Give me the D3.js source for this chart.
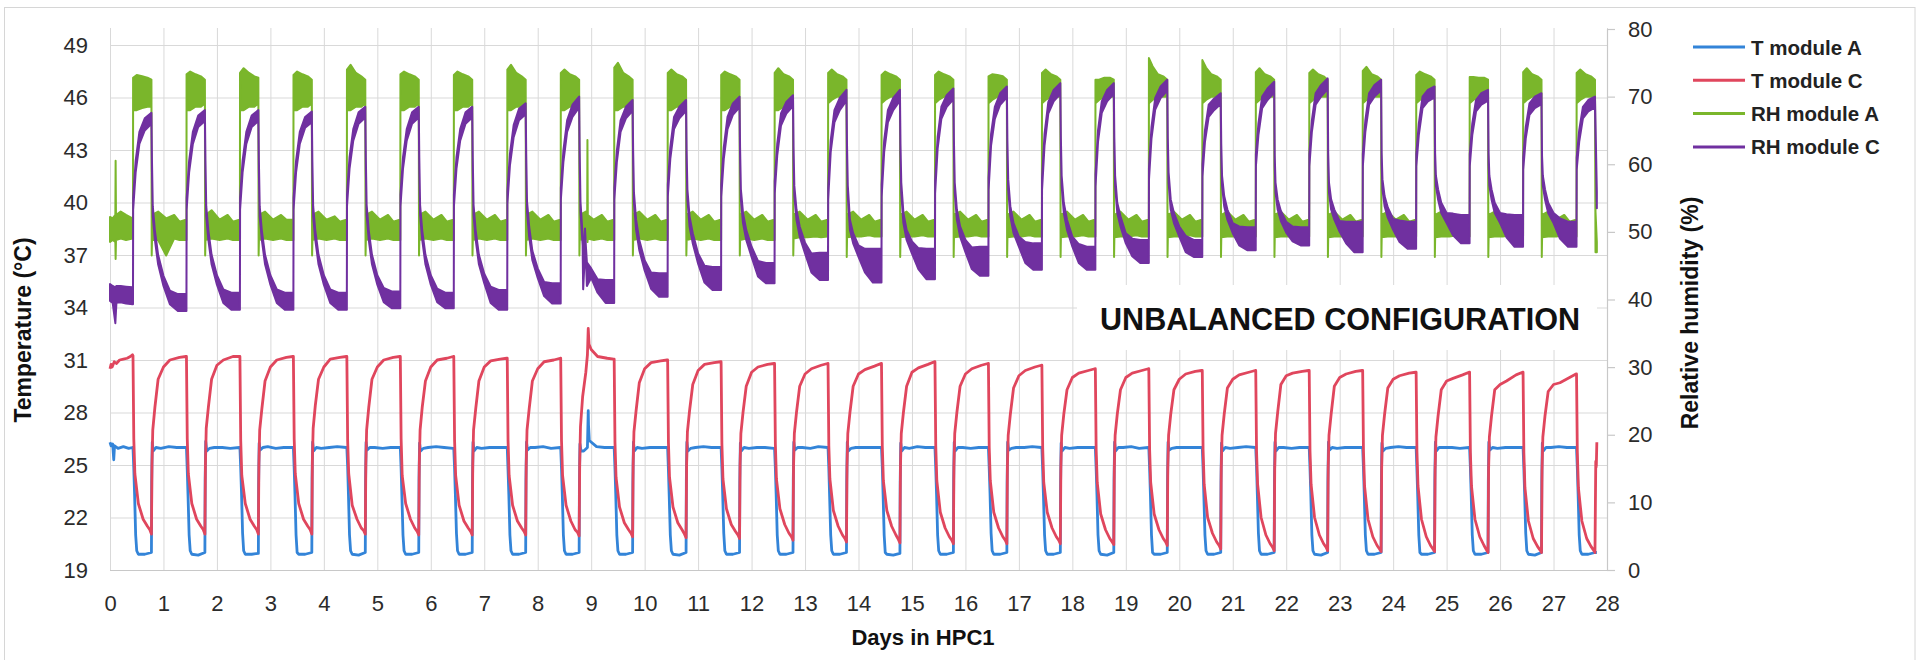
<!DOCTYPE html>
<html>
<head>
<meta charset="utf-8">
<script src="https://cdn.jsdelivr.net/npm/d3@7/dist/d3.min.js"></script>
<style>
  body { margin: 0; background: #fff; }
  svg { display: block; font-family: "Liberation Sans", Arial, sans-serif; }
</style>
</head>
<body>
<svg id="chart" width="1925" height="660"></svg>
<script>
// ---------- axes ----------
const dayTicks = [0,1,2,3,4,5,6,7,8,9,10,11,12,13,14,15,16,17,18,19,20,21,22,23,24,25,26,27,28];
const tempTicks = [19,22,25,28,31,34,37,40,43,46,49];
const rhTicks = [0,10,20,30,40,50,60,70,80];
const seriesNames = ["T module A", "T module C", "RH module A", "RH module C"];

// ---------- T module A (°C) ----------
// Each cycle row k holds readings at day k + tA_phase[i].
const tA_phase = [0.43,0.445,0.46,0.48,0.50,0.53,0.65,0.775,0.78,0.79,0.81,0.86,0.95,1.10,1.25,1.42];
const tA_lead = [[0,26.3],[0.02,26.1],[0.05,26.2],[0.07,25.3],[0.085,26.1],[0.15,25.95],[0.25,26.05],[0.35,25.95],[0.42,26.0]];
const tA_cycles = [
[26.0,24.8,23.3,21.0,20.1,19.9,19.9,20.0,24.0,26.3,25.8,26.0,25.95,26.05,26.0,26.0],
[26.0,24.7,23.2,21.0,20.1,19.9,19.85,20.0,24.1,26.35,25.8,25.95,26.0,26.0,25.95,26.0],
[26.0,24.8,23.4,21.1,20.1,19.9,19.9,19.95,24.0,26.25,25.85,26.0,26.05,25.95,26.0,26.0],
[26.0,24.8,23.3,21.0,20.0,19.9,19.9,20.0,24.2,26.3,25.8,26.0,25.95,26.0,26.05,26.0],
[26.0,24.9,23.3,21.0,20.1,19.9,19.85,20.0,24.0,26.3,25.85,26.0,26.0,25.95,26.0,26.0],
[26.0,24.8,23.2,21.0,20.1,19.9,19.9,20.0,24.1,26.25,25.8,25.95,26.0,26.05,26.0,25.95],
[25.95,24.8,23.3,21.1,20.1,19.9,19.9,20.0,24.0,26.3,25.8,26.0,25.95,26.0,26.0,26.0],
[26.0,24.7,23.3,21.0,20.1,19.9,19.9,20.0,24.1,26.3,25.85,26.0,26.0,26.05,25.95,26.0],
[26.0,24.8,23.3,21.0,20.1,19.9,19.9,20.0,24.0,26.2,25.8,25.8,27.3,26.05,26.0,26.0],
[26.0,24.8,23.3,21.0,20.1,19.9,19.9,20.0,24.0,26.3,25.8,26.0,25.95,26.0,26.0,26.0],
[26.0,24.7,23.2,21.0,20.1,19.9,19.85,20.0,24.1,26.3,25.8,25.95,26.0,26.05,26.0,26.0],
[26.0,24.8,23.3,21.1,20.1,19.9,19.9,20.0,24.0,26.25,25.8,26.0,25.95,26.0,26.0,25.95],
[25.95,24.8,23.3,21.0,20.1,19.9,19.9,20.0,24.1,26.3,25.85,26.0,26.0,25.95,26.05,26.0],
[26.0,24.8,23.2,21.0,20.1,19.9,19.9,20.0,24.0,26.3,25.8,25.95,26.0,26.0,26.0,26.0],
[26.0,24.9,23.3,21.0,20.0,19.9,19.85,19.95,24.0,26.25,25.8,26.0,25.95,26.05,26.0,26.0],
[26.0,24.8,23.3,21.0,20.1,19.9,19.9,20.0,24.1,26.3,25.8,26.0,26.0,25.95,26.0,26.0],
[26.0,24.8,23.4,21.1,20.1,19.9,19.9,20.0,24.0,26.3,25.85,25.95,26.0,26.0,26.05,26.0],
[26.0,24.7,23.2,21.0,20.1,19.9,19.9,20.0,24.0,26.25,25.8,26.0,25.95,26.0,26.0,26.0],
[26.0,24.8,23.3,21.0,20.1,19.9,19.85,20.0,24.1,26.3,25.8,26.0,26.0,26.05,25.95,26.0],
[26.0,24.8,23.3,21.0,20.0,19.9,19.9,20.0,24.0,26.3,25.85,25.95,26.0,26.0,26.0,26.0],
[26.0,24.8,23.2,21.0,20.1,19.9,19.9,20.0,24.0,26.25,25.8,26.0,25.95,26.0,26.05,26.0],
[26.0,24.9,23.3,21.1,20.1,19.9,19.9,20.0,24.1,26.3,25.8,26.0,26.0,25.95,26.0,26.0],
[26.0,24.8,23.3,21.0,20.1,19.9,19.85,20.0,24.0,26.3,25.85,26.0,25.95,26.0,26.0,26.0],
[26.0,24.8,23.3,21.0,20.1,19.9,19.9,20.0,24.0,26.25,25.8,25.95,26.0,26.05,26.0,26.0],
[26.0,24.7,23.2,21.0,20.0,19.9,19.9,20.0,24.1,26.3,25.8,26.0,26.0,26.0,25.95,26.0],
[26.0,24.8,23.3,21.0,20.1,19.9,19.9,20.0,24.0,26.3,25.85,26.0,25.95,26.0,26.0,26.0],
[26.0,24.8,23.3,21.1,20.1,19.9,19.85,20.0,24.0,26.25,25.8,26.0,26.0,26.05,26.0,26.0],
[26.0,24.8,23.3,21.0,20.1,19.9,19.9,20.0]
];
const tA_extra = [[8.93,26.0],[8.945,28.1],[8.965,26.4]];
const tA_tail = [[27.81,20.0]];

// ---------- T module C (°C) ----------
const tC_phase = [0.43,0.445,0.465,0.53,0.62,0.70,0.745,0.775,0.785,0.80,0.84,0.90,1.00,1.12,1.30,1.42];
const tC_lead = [[0,30.5],[0.02,30.75],[0.04,30.6],[0.08,30.9],[0.12,30.8],[0.18,31.0],[0.25,31.05],[0.32,31.1],[0.38,31.2],[0.42,31.3]];
const tC_cycles = [
[31.25,26.5,24.5,22.8,21.9,21.5,21.3,21.05,25.0,27.0,28.3,29.9,30.6,31.0,31.15,31.2],
[31.2,26.5,24.5,22.8,21.9,21.5,21.3,21.05,25.0,27.1,28.3,29.9,30.7,31.0,31.2,31.2],
[31.2,26.4,24.4,22.8,21.9,21.5,21.3,21.05,25.0,27.0,28.2,29.8,30.6,31.0,31.15,31.2],
[31.2,26.5,24.5,22.8,21.9,21.5,21.3,21.05,25.2,27.1,28.4,29.9,30.6,31.05,31.15,31.2],
[31.2,26.4,24.5,22.7,21.9,21.4,21.25,21.05,25.0,27.0,28.3,29.9,30.6,31.0,31.15,31.2],
[31.2,26.5,24.4,22.8,21.9,21.4,21.2,21.0,25.0,27.0,28.3,29.8,30.6,31.0,31.1,31.2],
[31.2,26.4,24.4,22.7,21.8,21.4,21.2,21.0,25.0,27.0,28.2,29.8,30.6,30.95,31.05,31.1],
[31.1,26.4,24.4,22.7,21.8,21.4,21.2,21.0,25.0,27.0,28.2,29.8,30.5,30.9,31.0,31.1],
[31.1,26.4,24.4,22.7,21.8,21.3,21.15,20.95,25.0,27.2,28.9,30.3,31.6,31.2,31.1,31.05],
[31.05,26.3,24.3,22.6,21.7,21.3,21.1,20.9,25.0,26.9,28.1,29.7,30.5,30.85,30.95,31.0],
[31.0,26.3,24.3,22.6,21.7,21.3,21.05,20.85,25.0,26.9,28.1,29.6,30.4,30.75,30.85,30.9],
[30.9,26.2,24.2,22.5,21.6,21.2,21.0,20.8,25.0,26.8,28.0,29.5,30.3,30.6,30.75,30.8],
[30.8,26.2,24.2,22.5,21.6,21.1,20.9,20.7,24.9,26.8,28.0,29.5,30.2,30.5,30.7,30.8],
[30.8,26.1,24.2,22.4,21.5,21.0,20.8,20.6,24.9,26.8,28.0,29.5,30.2,30.45,30.65,30.8],
[30.8,26.1,24.1,22.4,21.5,21.0,20.75,20.55,24.9,26.8,28.0,29.5,30.3,30.55,30.75,30.9],
[30.9,26.1,24.1,22.3,21.4,20.9,20.7,20.5,24.9,26.8,28.0,29.5,30.2,30.5,30.7,30.8],
[30.8,26.0,24.1,22.3,21.4,20.9,20.7,20.5,24.9,26.7,27.9,29.4,30.1,30.4,30.6,30.7],
[30.7,26.0,24.0,22.3,21.4,20.9,20.7,20.5,24.8,26.7,27.9,29.3,30.0,30.25,30.4,30.5],
[30.5,25.9,24.0,22.2,21.3,20.8,20.6,20.45,24.8,26.7,27.9,29.3,30.0,30.25,30.4,30.5],
[30.5,25.9,24.0,22.2,21.3,20.8,20.6,20.4,24.8,26.7,27.9,29.3,29.9,30.2,30.35,30.4],
[30.4,25.9,23.9,22.0,21.1,20.6,20.4,20.2,24.8,26.7,27.9,29.4,29.9,30.15,30.3,30.4],
[30.4,25.8,23.9,22.0,21.0,20.5,20.3,20.1,24.8,26.8,28.0,29.6,30.1,30.25,30.35,30.4],
[30.4,25.8,23.9,22.0,21.0,20.5,20.3,20.1,24.8,26.7,27.9,29.5,30.0,30.2,30.35,30.4],
[30.4,25.8,23.8,21.9,20.9,20.4,20.2,20.05,24.8,26.7,27.9,29.4,29.9,30.1,30.25,30.3],
[30.3,25.8,23.8,21.9,20.9,20.4,20.2,20.05,24.7,26.6,27.8,29.3,29.8,29.95,30.15,30.3],
[30.3,25.7,23.8,21.9,20.9,20.4,20.15,20.0,24.7,26.6,27.8,29.3,29.6,29.8,30.15,30.3],
[30.3,25.7,23.7,21.8,20.8,20.35,20.15,20.0,24.7,26.6,27.8,29.2,29.6,29.7,30.0,30.2],
[30.2,25.7,23.7,21.8,20.8,20.35,20.15,20.0]
];
const tC_extra = [[8.93,31.3],[8.945,32.8],[8.96,31.9]];
const tC_tail = [[27.79,25.2],[27.80,24.9],[27.81,26.3]];

// ---------- RH module A (%) : [low edge, high edge] pairs ----------
const rhA_phase = [0.43,0.432,0.5,0.6,0.7,0.775,0.78,0.786,0.9,1.05,1.2,1.3,1.42];
const rhA_lead = [[0,48.5,52.2],[0.05,48.8,52],[0.1,48.5,52.5],[0.105,46,60.5],[0.112,48.8,52.5],[0.2,49,53],[0.3,48.8,52.5],[0.42,49,52]];
const rhA_cycles = [
[49,52, 68,72.8, 68,73.2, 68.3,73, 68.5,72.8, 68.5,72.5, 46.5,52, 48.8,52.5, 48.8,53, 46.5,52, 49,52.5, 48.8,51.5, 48.8,51.8],
[48.8,51.8, 68,73.3, 68,73.7, 68.5,73.3, 68.5,73, 69,72.5, 46.5,52, 48.8,52.5, 49,53.2, 48.8,51.8, 49,52.5, 48.8,51.5, 48.8,51.8],
[48.8,51.8, 68,73.5, 68,74.2, 68.5,73.5, 68.5,73, 69,72.8, 46.5,52, 48.8,52.5, 49,53, 48.8,51.8, 49,52.5, 48.8,51.8, 48.8,51.8],
[48.8,51.8, 68,73.2, 68,73.7, 68.5,73.3, 68.5,73, 69,72.5, 46.5,52, 48.8,52.5, 49,53, 48.8,51.8, 49,52.3, 48.8,51.5, 48.8,51.8],
[48.8,51.8, 68,74, 68,74.7, 68.5,73.5, 68.5,73, 69,72.5, 46.5,52, 48.8,52.5, 49,53, 48.8,51.8, 49,52.5, 48.8,51.5, 48.8,51.8],
[48.8,51.8, 68,73.3, 68,73.7, 68.5,73.3, 68.5,73, 69,72.5, 46.5,52, 48.8,52.5, 49,53, 48.8,51.8, 49,52.5, 48.8,51.5, 48.8,51.8],
[48.8,51.8, 68,73.2, 68,73.7, 68.5,73.3, 68.5,73, 69,72.5, 46.5,52, 48.8,52.5, 49,53, 48.8,51.8, 49,52.5, 48.8,51.5, 48.8,51.8],
[48.8,51.8, 68,74, 68,74.7, 68.5,73.5, 68.5,73, 69,72.5, 46.5,52, 48.8,52.5, 49,53, 48.8,51.8, 49,52.5, 48.8,51.5, 48.8,51.8],
[48.8,51.8, 68,73.5, 68,74, 68.5,73.3, 68.5,73, 69,72.5, 46.5,52, 48.8,52.5, 49,53, 48.8,51.8, 49,52.5, 48.8,51.5, 48.8,51.8],
[48.8,51.8, 68,74.3, 68,75, 68.5,73.5, 68.5,73, 69,72.5, 46.5,52, 48.8,52.5, 49,53, 48.8,51.8, 49,52.5, 48.8,51.5, 48.8,51.8],
[48.8,51.8, 68,73.5, 68,74, 68.5,73.3, 68.5,73, 69,72.5, 46.5,52, 48.8,52.5, 49,53, 48.8,51.8, 49,52.5, 48.8,51.5, 48.8,51.8],
[48.8,51.8, 68,73.2, 68,73.7, 68.5,73.3, 68.5,73, 69,72.5, 46.5,52, 48.8,52.5, 49,53, 48.8,51.8, 49,52.5, 48.8,51.5, 48.8,51.8],
[48.8,51.8, 68,73.5, 68,74.2, 68.5,73.3, 68.5,73, 69,72.5, 46.5,52, 49,52.5, 49.2,53, 49.2,51.8, 49.3,52.5, 49.2,51.5, 49.3,51.8],
[49.3,51.8, 69,73.5, 69.5,74, 70,73.3, 70,73, 70,72.5, 46.3,52, 49.2,52.5, 49.3,53, 49.3,51.8, 49.5,52.5, 49.3,51.5, 49.3,51.8],
[49.3,51.8, 69,73.2, 69.5,73.7, 70,73.3, 70,73, 70,72.5, 46.3,52, 49.2,52.5, 49.3,53, 49.3,51.8, 49.5,52.5, 49.3,51.5, 49.3,51.8],
[49.3,51.8, 69,73.2, 69.5,73.7, 70,73.3, 70,73, 70,72.5, 46.3,52, 49.2,52.5, 49.3,53, 49.3,51.8, 49.5,52.5, 49.3,51.5, 49.3,51.8],
[49.3,51.8, 69,73, 69.5,73.3, 70,73.2, 70,73, 70,72.5, 46.3,52, 49.2,52.5, 49.3,53, 49.3,51.8, 49.5,52.5, 49.3,51.5, 49.3,51.8],
[49.3,51.8, 69,73.5, 69.5,74, 70,73.3, 70,73, 70,72.5, 46.3,52, 49.2,52.5, 49.3,53, 49.3,51.8, 49.5,52.5, 49.3,51.5, 49.3,51.8],
[49.3,51.8, 69,72.5, 69.5,72.5, 70,72.8, 70,72.8, 70,72.5, 46.3,52, 49.2,52.5, 49.3,53, 49.3,51.8, 49.5,52.5, 49.3,51.5, 49.3,51.8],
[49.3,51.8, 69,75.7, 69.5,74.5, 70,73.3, 70,73, 70,72.5, 46.3,52, 49.2,52.5, 49.3,53, 49.3,51.8, 49.5,52.5, 49.3,51.5, 49.3,51.8],
[49.3,51.8, 69,75.4, 69.5,74.3, 70,73.3, 70,73, 70,72.5, 46.3,52, 49.2,52.5, 49.3,53, 49.3,51.8, 49.5,52.5, 49.3,51.5, 49.3,51.8],
[49.3,51.8, 69,73.6, 69.5,74.2, 70,73.3, 70,73, 70,72.5, 46.3,52, 49.2,52.5, 49.3,53, 49.3,51.8, 49.5,52.5, 49.3,51.5, 49.3,51.8],
[49.3,51.8, 69,73.5, 69.5,74, 70,73.3, 70,73, 70,72.5, 46.3,52, 49.2,52.5, 49.3,53, 49.3,51.8, 49.5,52.5, 49.3,51.5, 49.3,51.8],
[49.3,51.8, 69,73.8, 69.5,74.4, 70,73.3, 70,73, 70,72.5, 46.3,52, 49.2,52.5, 49.3,53, 49.3,51.8, 49.5,52.5, 49.3,51.5, 49.3,51.8],
[49.3,51.8, 69,73.2, 69.5,73.7, 70,73.3, 70,73, 70,72.5, 46.3,52, 49.2,52.5, 49.3,53, 49.3,51.8, 49.5,52.5, 49.3,51.5, 49.3,51.8],
[49.3,51.8, 69,72.9, 69.5,72.9, 70,72.8, 70,72.8, 70,72.5, 46.3,52, 49.2,52.5, 49.3,53, 49.3,51.8, 49.5,52.5, 49.3,51.5, 49.3,51.8],
[49.3,51.8, 69,73.6, 69.5,74.2, 70,73.3, 70,73, 70,72.5, 46.3,52, 49.2,52.5, 49.3,53, 49.3,51.8, 49.5,52.5, 49.3,51.5, 49.3,51.8],
[49.3,51.8, 69,73.5, 69.5,74, 70,73.3, 70,73, 70,72.5]
];
const rhA_extra = [[8.925,49,52],[8.93,48.5,63.6],[8.937,49,52.5]];
const rhA_tail = [[27.785,47,53],[27.81,47,48.5]];

// ---------- RH module C (%) : [low edge, high edge] pairs ----------
const rhC_phase = [0.43,0.433,0.48,0.55,0.65,0.775,0.785,0.80,0.84,0.90,1.00,1.12,1.27,1.42];
const rhC_lead = [[0,39.8,42.3],[0.05,39.5,42],[0.1,36.5,41.8],[0.12,39.5,42],[0.2,39.6,42],[0.3,39.4,41.9],[0.42,39.3,41.8]];
const rhC_cycles = [
[39.3,41.8, 53.3,55, 58.8,60.5, 63,64.8, 65,66.8, 66,67.6, 58.8,60.5, 52.3,53.8, 48.8,50.2, 45.2,46.6, 42,43.5, 39.3,41.3, 38.3,40.8, 38.3,40.8],
[38.3,40.8, 53.3,55, 58.8,60.5, 63,64.8, 65.5,67.2, 66.4,68, 58.8,60.5, 52.3,53.8, 48.8,50.2, 45.2,46.6, 42.2,43.6, 39.5,41.5, 38.5,41, 38.5,41],
[38.5,41, 53.3,55, 58.8,60.5, 63,64.8, 65.5,67.2, 66.4,68, 58.8,60.5, 52.3,53.8, 48.8,50.2, 45.2,46.6, 42.2,43.6, 39.5,41.5, 38.5,41, 38.5,41],
[38.5,41, 53.3,55, 58.8,60.5, 63,64.8, 65.4,67, 66.2,67.8, 58.8,60.5, 52.3,53.8, 48.8,50.2, 45.2,46.6, 42.2,43.6, 39.5,41.5, 38.5,41, 38.5,41],
[38.5,41, 53.8,55.5, 59.3,61, 63.5,65.2, 66,67.7, 66.9,68.5, 59.3,61, 52.5,54, 48.8,50.2, 45.2,46.6, 42.2,43.6, 39.6,41.7, 38.7,41.2, 38.7,41.2],
[38.7,41.2, 53.8,55.5, 59.3,61, 63.5,65.2, 66,67.7, 66.9,68.5, 59.3,61, 52.5,54, 48.8,50.2, 45.2,46.6, 42.2,43.6, 39.6,41.6, 38.7,41, 38.7,41],
[38.7,41, 53.8,55.5, 59.3,61, 63.5,65.2, 66,67.7, 66.9,68.5, 59.3,61, 52.5,54, 48.8,50.2, 45.2,46.6, 42.4,43.8, 39.5,41.9, 38.5,41.4, 38.5,41.4],
[38.5,41.4, 54.2,56, 59.8,61.5, 64,65.8, 66.5,68.2, 67.4,69, 59.8,61.5, 53,54.5, 49.3,50.8, 45.8,47.2, 43.2,44.6, 40.5,42.6, 39.4,42.4, 39.4,42.4],
[39.4,42.4, 54.8,56.5, 60.3,62, 64.8,66.5, 67,68.8, 68.4,70, 60,61.8, 53,54.5, 48,49.5, 46.3,48, 43.2,44.6, 41,43, 39.5,42.9, 39.5,42.9],
[39.5,42.9, 54.8,56.5, 60.3,62, 64.8,66.5, 66.8,68.5, 67.9,69.5, 60.3,62, 54.3,55.8, 50.3,51.8, 47.3,48.8, 44.3,45.8, 41.6,44, 40.4,43.9, 40.4,43.9],
[40.4,43.9, 55.2,57, 60.8,62.5, 65.2,67, 66.8,68.5, 67.9,69.5, 60.3,62, 54.8,56.3, 50.8,52.3, 48.3,49.8, 45.3,46.8, 42.5,45, 41.4,44.8, 41.4,44.8],
[41.4,44.8, 55.2,57, 60.8,62.5, 65.2,67, 67.3,69, 68.4,70, 60.8,62.5, 54.8,56.3, 51.3,52.8, 48.8,50.3, 46.3,47.8, 43.4,45.7, 42.4,45.4, 42.4,45.4],
[42.4,45.4, 55.7,57.5, 61.3,63, 65.7,67.5, 67.5,69.2, 68.6,70.2, 60.8,62.5, 55.3,56.8, 51.8,53.3, 49.3,50.8, 46.8,48.4, 44,46.8, 42.9,46.9, 42.9,46.9],
[42.9,46.9, 54.8,56.5, 61.8,63.5, 66.2,68, 68,69.8, 69.4,71, 61.3,63, 55.3,56.8, 50.3,51.8, 48.3,49.8, 46.3,48, 44,47.5, 42.5,47.5, 42.5,47.5],
[42.5,47.5, 55.2,57, 61.8,63.5, 66.2,68, 68,69.8, 69.4,71, 61.3,63, 55.8,57.3, 51.3,52.8, 48.8,50.3, 46.8,48.6, 44.5,47.6, 43,47.5, 43,47.5],
[43,47.5, 55.7,57.5, 62.3,64, 66.7,68.5, 68.5,70.2, 69.6,71.2, 61.8,63.5, 55.8,57.3, 51.8,53.3, 49.3,50.8, 47,48.8, 44.5,47.7, 43.5,47.8, 43.5,47.8],
[43.5,47.8, 56.2,58, 62.8,64.5, 66.7,68.5, 68.8,70.5, 69.9,71.5, 61.8,63.5, 56.3,57.8, 52.3,53.8, 49.8,51.3, 47.8,49.3, 45.4,48.5, 44.4,48.3, 44.4,48.3],
[44.4,48.3, 56.2,58, 62.8,64.5, 67.5,69.2, 69.3,71, 70.4,72, 62.3,64, 56.8,58.3, 52.8,54.3, 50.3,51.8, 47.8,49.3, 45.4,48.2, 44.4,47.8, 44.4,47.8],
[44.4,47.8, 56.7,58.5, 63.3,65, 67.6,69.3, 69.3,71, 70.4,72, 62.3,64, 56.8,58.3, 52.8,54.3, 50.8,52.3, 48.3,49.8, 46.4,49, 45.4,48.8, 45.4,48.8],
[45.4,48.8, 57.7,59.5, 63.8,65.5, 68.1,69.8, 69.8,71.5, 70.9,72.5, 62.3,64, 57.3,58.8, 53.3,54.8, 51.3,52.8, 49.3,50.8, 47,49.4, 46.3,48.8, 46.3,48.8],
[46.3,48.8, 58.2,60, 63.3,65, 67,68.8, 68,69.7, 68.9,70.5, 61.3,63, 56.8,58.3, 53.8,55.3, 51.8,53.3, 49.8,51.3, 48,50.8, 47.3,50.7, 47.3,50.7],
[47.3,50.7, 59.7,61.5, 64.3,66, 68.3,70, 69.5,71.2, 70.6,72.2, 59.7,61.3, 55.8,57.3, 53.3,54.8, 51.6,53.1, 49.9,51.5, 48.6,50.8, 48,50.7, 48,50.7],
[48,50.7, 59.7,61.5, 64.8,66.5, 68.8,70.5, 70,71.7, 71.1,72.7, 60,61.7, 55.8,57.3, 53.3,54.8, 51.8,53.3, 50,51.6, 48.3,51.5, 47,51.5, 47,51.5],
[47,51.5, 59.7,61.5, 64.8,66.5, 68.8,70.5, 70,71.7, 70.9,72.5, 60,61.7, 56.3,57.8, 53.8,55.3, 52.1,53.6, 50.3,51.9, 48.5,51.7, 47.5,51.5, 47.5,51.5],
[47.5,51.5, 59.7,61.5, 64.3,66, 68.3,70, 69.3,71, 69.9,71.5, 60,61.7, 56.8,58.3, 54.8,56.3, 52.8,54.3, 51.3,52.8, 49.5,52.7, 48.3,52.5, 48.3,52.5],
[48.3,52.5, 59.7,61.5, 64.3,66, 67.8,69.5, 68.8,70.5, 69.4,71, 60,61.7, 56.8,58.3, 54.8,56.3, 52.8,54.3, 51.3,52.8, 49.2,52.6, 47.8,52.5, 47.8,52.5],
[47.8,52.5, 59.2,61, 63.8,65.5, 67.3,69, 68.3,70, 68.9,70.5, 59.5,61.2, 56.8,58.3, 54.8,56.3, 52.8,54.3, 51.3,52.8, 49,52, 47.8,51.5, 47.8,51.5],
[47.8,51.5, 59.2,61, 63.3,65, 66.8,68.5, 67.8,69.5, 68.4,70]
];
const rhC_extra = [[8.85,41.5,44],[8.885,47,50.5],[8.92,42,45.5]];
const rhC_tail = [[27.81,53.5,56]];

const colors = ["#3384d8", "#e0465d", "#7ab62b", "#7030a0"];

// ---------- assemble the readings into point lists ----------
function expandLine(lead, phase, cycles, extra, tail) {
  const pts = lead.slice();
  cycles.forEach((row, k) => row.forEach((v, i) => pts.push([k + phase[i], v])));
  return pts.concat(extra, tail).sort((a, b) => a[0] - b[0]);
}
function expandBand(lead, phase, cycles, extra, tail) {
  const pts = lead.slice();
  cycles.forEach((row, k) => {
    for (let i = 0; i < row.length / 2; i++) pts.push([k + phase[i], row[2 * i], row[2 * i + 1]]);
  });
  return pts.concat(extra, tail).sort((a, b) => a[0] - b[0]);
}
const tA = expandLine(tA_lead, tA_phase, tA_cycles, tA_extra, tA_tail);
const tC = expandLine(tC_lead, tC_phase, tC_cycles, tC_extra, tC_tail);
const rhA = expandBand(rhA_lead, rhA_phase, rhA_cycles, rhA_extra, rhA_tail);
const rhC = expandBand(rhC_lead, rhC_phase, rhC_cycles, rhC_extra, rhC_tail);

// ---------- layout ----------
const svg = d3.select("#chart");
const plot = { left: 110, right: 1607, top: 28, bottom: 570 };

const x = d3.scaleLinear().domain([0, 28]).range([plot.left, plot.right]);
const yT = d3.scaleLinear().domain([19, 49]).range([plot.bottom, 45]);
const yRH = d3.scaleLinear().domain([0, 80]).range([plot.bottom, 29]);

// outer frame
svg.append("rect").attr("x", 4.5).attr("y", 7.5).attr("width", 1910.5).attr("height", 700)
  .attr("fill", "none").attr("stroke", "#d6d6d6").attr("stroke-width", 1);

// gridlines
const gridH = svg.append("g").attr("transform", `translate(${plot.left},0)`)
  .call(d3.axisLeft(yT).tickValues(tempTicks).tickSize(-(plot.right - plot.left)).tickFormat(""));
gridH.select(".domain").remove();
gridH.selectAll("line").attr("stroke", "#d9d9d9").attr("stroke-width", 1);

const gridV = svg.append("g").attr("transform", `translate(0,${plot.bottom})`)
  .call(d3.axisBottom(x).tickValues(dayTicks).tickSize(-(plot.bottom - plot.top)).tickFormat(""));
gridV.select(".domain").remove();
gridV.selectAll("line").attr("stroke", "#d9d9d9").attr("stroke-width", 1);

// bottom axis line
svg.append("line").attr("x1", plot.left).attr("x2", plot.right)
  .attr("y1", plot.bottom + 0.5).attr("y2", plot.bottom + 0.5)
  .attr("stroke", "#c8c8c8").attr("stroke-width", 1.2);

// tick labels
const tickFont = g => g.selectAll("text")
  .attr("font-size", 22).attr("fill", "#2b2b2b")
  .attr("font-family", "'Liberation Sans', Arial, sans-serif");

const axL = svg.append("g").attr("transform", `translate(${plot.left},0)`)
  .call(d3.axisLeft(yT).tickValues(tempTicks).tickSize(0).tickPadding(22));
axL.select(".domain").remove();
axL.call(tickFont);

const axB = svg.append("g").attr("transform", `translate(0,${plot.bottom})`)
  .call(d3.axisBottom(x).tickValues(dayTicks).tickSize(0).tickPadding(25));
axB.select(".domain").remove();
axB.call(tickFont);

const axR = svg.append("g").attr("transform", `translate(${plot.right},0)`)
  .call(d3.axisRight(yRH).tickValues(rhTicks).tickSize(8).tickSizeOuter(0).tickPadding(13));
axR.select(".domain").attr("stroke", "#c8c8c8").attr("stroke-width", 1.2);
axR.selectAll("line").attr("stroke", "#c8c8c8").attr("stroke-width", 1.2);
axR.call(tickFont);

// series
const lineT = d3.line().x(d => x(d[0])).y(d => yT(d[1]));
const bandRH = d3.area().x(d => x(d[0])).y0(d => yRH(d[1])).y1(d => yRH(d[2]));

const plotG = svg.append("g");
plotG.append("path").datum(tA).attr("d", lineT)
  .attr("fill", "none").attr("stroke", colors[0]).attr("stroke-width", 2.8).attr("stroke-linejoin", "round");
plotG.append("path").datum(tC).attr("d", lineT)
  .attr("fill", "none").attr("stroke", colors[1]).attr("stroke-width", 2.8).attr("stroke-linejoin", "round");
plotG.append("path").datum(rhA).attr("d", bandRH)
  .attr("fill", colors[2]).attr("stroke", colors[2]).attr("stroke-width", 2).attr("stroke-linejoin", "round");
plotG.append("path").datum(rhC).attr("d", bandRH)
  .attr("fill", colors[3]).attr("stroke", colors[3]).attr("stroke-width", 2).attr("stroke-linejoin", "round");

// annotation box
svg.append("rect").attr("x", 1077).attr("y", 285).attr("width", 520).attr("height", 65).attr("fill", "#fff");
svg.append("text").attr("x", 1340).attr("y", 330)
  .attr("text-anchor", "middle").attr("font-size", 32).attr("font-weight", "bold").attr("fill", "#111")
  .attr("textLength", 480).attr("lengthAdjust", "spacingAndGlyphs")
  .text("UNBALANCED CONFIGURATION");

// axis titles
svg.append("text").attr("transform", "translate(31,330) rotate(-90)")
  .attr("text-anchor", "middle").attr("font-size", 23).attr("font-weight", "bold").attr("fill", "#111")
  .text("Temperature (°C)");
svg.append("text").attr("transform", "translate(1698,313) rotate(-90)")
  .attr("text-anchor", "middle").attr("font-size", 23).attr("font-weight", "bold").attr("fill", "#111")
  .text("Relative humidity  (%)");
svg.append("text").attr("x", 923).attr("y", 645)
  .attr("text-anchor", "middle").attr("font-size", 22).attr("font-weight", "bold").attr("fill", "#111")
  .text("Days  in HPC1");

// legend
const legend = svg.append("g");
seriesNames.forEach((name, i) => {
  const yy = 47 + i * 33.3;
  legend.append("line").attr("x1", 1693).attr("x2", 1745).attr("y1", yy).attr("y2", yy)
    .attr("stroke", colors[i]).attr("stroke-width", 3);
  legend.append("text").attr("x", 1751).attr("y", yy + 7.5)
    .attr("font-size", 20.5).attr("font-weight", "bold").attr("fill", "#222").text(name);
});
</script>
</body>
</html>
